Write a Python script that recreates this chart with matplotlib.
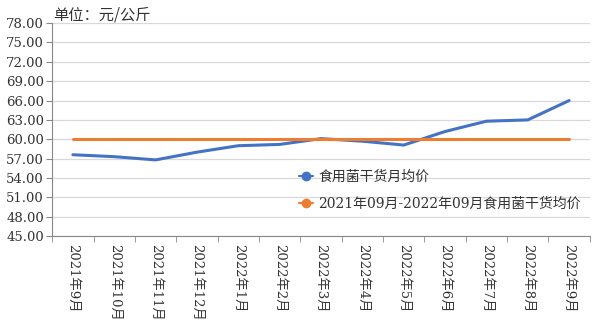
import matplotlib.pyplot as plt
import numpy as np

plt.rcParams['font.family'] = ['DejaVu Serif', 'Noto Sans CJK SC']

months = ["2021年9月", "2021年10月", "2021年11月", "2021年12月", "2022年1月",
          "2022年2月", "2022年3月", "2022年4月", "2022年5月", "2022年6月",
          "2022年7月", "2022年8月", "2022年9月"]
monthly_price = [57.6, 57.3, 56.8, 58.0, 59.0, 59.2, 60.1, 59.7, 59.1, 61.2, 62.8, 63.0, 66.0]
period_avg = [60.0] * 13

x = np.arange(len(months))

fig = plt.figure(figsize=(6, 3.26), dpi=100)
ax = fig.add_axes([0.087, 0.276, 0.896, 0.653])

ax.plot(x, monthly_price, color="#4472C4", lw=2.2, solid_capstyle="round",
        marker="o", markersize=0, label="食用菌干货月均价")
ax.plot(x, period_avg, color="#ED7D31", lw=2.2, solid_capstyle="round",
        marker="o", markersize=0, label="2021年09月-2022年09月食用菌干货均价")

ax.set_ylim(45, 78)
ax.set_yticks(np.arange(45, 79, 3))
ax.set_yticklabels(["%.2f" % v for v in np.arange(45, 79, 3)], fontsize=9.5, color="#333333")
ax.set_xlim(-0.5, 12.5)
ax.set_xticks(x)
ax.set_xticklabels(months, rotation=270, fontsize=9.5, color="#333333")
ax.set_xticks(np.arange(-0.5, 13, 1), minor=True)
ax.tick_params(axis="x", which="major", length=0, pad=6)
ax.tick_params(axis="x", which="minor", length=4, color="#888888")
ax.tick_params(axis="y", length=4, color="#888888", pad=2)

ax.grid(axis="y", color="#d9d9d9", lw=0.9)
ax.set_axisbelow(True)
for s in ["top", "right"]:
    ax.spines[s].set_visible(False)
for s in ["left", "bottom"]:
    ax.spines[s].set_color("#888888")

leg = ax.legend(loc="upper left", bbox_to_anchor=(0.459, 0.31), frameon=False,
                fontsize=10, handlelength=1.0, handletextpad=0.4, labelspacing=0.95,
                borderaxespad=0, borderpad=0)
for h in leg.legend_handles:
    h.set_markersize(6)
    h.set_linewidth(1.5)
for t in leg.get_texts():
    t.set_color("#333333")

fig.text(0.088, 0.94, "单位：元/公斤", fontsize=11, color="#333333",
         family=["Noto Sans CJK SC"])

fig.savefig("out.png")
